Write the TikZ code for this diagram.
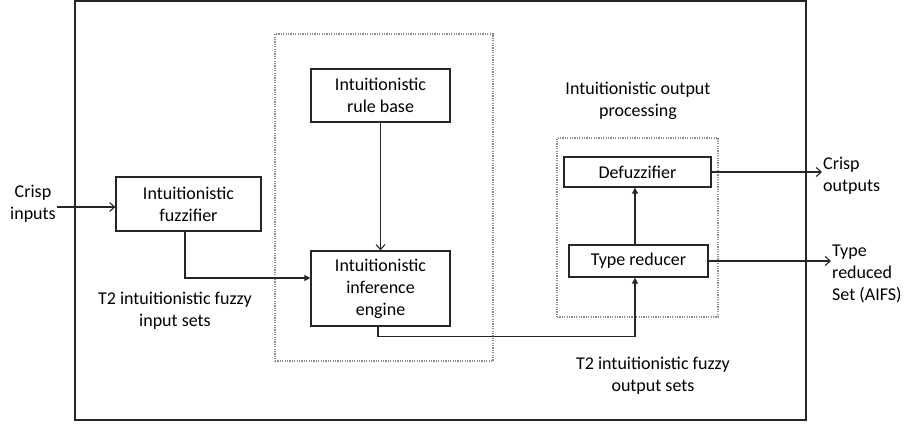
\documentclass[tikz,border=0pt]{standalone}
\usepackage{fontspec}
\setmainfont{Carlito}
\usetikzlibrary{arrows.meta}
\begin{document}
\begin{tikzpicture}[x=1pt,y=-1pt,
  font=\fontsize{18}{22}\selectfont,
  blk/.style={draw=black!85,line width=1.3pt,rectangle,align=center,inner sep=0pt},
  grp/.style={draw=black!45,line width=1.2pt,dash pattern=on 1.2pt off 1.2pt,rectangle,inner sep=0pt},
  lbl/.style={align=center,inner sep=1pt},
  wire/.style={draw=black!85,line width=1.2pt},
  openarr/.style={wire,-{Straight Barb[length=5pt,width=9pt,line width=1.1pt]}},
  fillarr/.style={wire,-{Triangle[length=6pt,width=6pt]}}]
\useasboundingbox (0,0) rectangle (904,425);
% outer frame
\node[draw=black!85,line width=1.8pt,rectangle,inner sep=0pt,minimum width=731pt,minimum height=419pt] (frame) at (440.5,210.5) {};
% dashed groups
\node[grp,minimum width=218pt,minimum height=327pt] (g1) at (384,197.5) {};
\node[grp,minimum width=161pt,minimum height=179pt] (g2) at (637.5,227.5) {};
% blocks
\node[blk,minimum width=145pt,minimum height=54pt] (fuzz) at (188.5,204) {Intuitionistic\\fuzzifier};
\node[blk,minimum width=139pt,minimum height=53pt] (rule) at (380.5,95.5) {Intuitionistic\\rule base};
\node[blk,minimum width=139pt,minimum height=75pt] (inf) at (380.5,288.5) {Intuitionistic\\inference\\engine};
\node[blk,minimum width=147pt,minimum height=30pt] (defz) at (637.5,172) {Defuzzifier};
\node[blk,minimum width=139pt,minimum height=32pt] (tr) at (638.5,261) {Type reducer};
% labels
\node[lbl] (ci) at (33,204) {Crisp\\inputs};
\node[lbl] (insets) at (175,311) {T2 intuitionistic fuzzy\\input sets};
\node[lbl] (outproc) at (638,101) {Intuitionistic output\\processing};
\node[lbl] (outsets) at (653,376) {T2 intuitionistic fuzzy\\output sets};
\node[lbl,anchor=west,align=left] (co) at (822,175.5) {Crisp\\outputs};
\node[lbl,anchor=west,align=left] (tro) at (831,274) {Type\\reduced\\Set (AIFS)};
% connectors
\draw[openarr] (ci.east |- 0,207) -- (fuzz.west |- 0,207);
\draw[openarr] (rule.south) -- (inf.north);
\draw[fillarr] ([xshift=-3.5pt]fuzz.south) |- ([yshift=10.5pt]inf.west);
\draw[fillarr] ([xshift=-2.5pt]inf.south) -- ++(0,10) -| ([xshift=-3.5pt]tr.south);
\draw[fillarr] ([xshift=-3.5pt]tr.north) -- ([xshift=-3.5pt]tr.north |- defz.south);
\draw[openarr] (defz.east) -- (co.west |- defz.east);
\draw[openarr] (tr.east) -- (tr.east -| tro.west);
\end{tikzpicture}
\end{document}
